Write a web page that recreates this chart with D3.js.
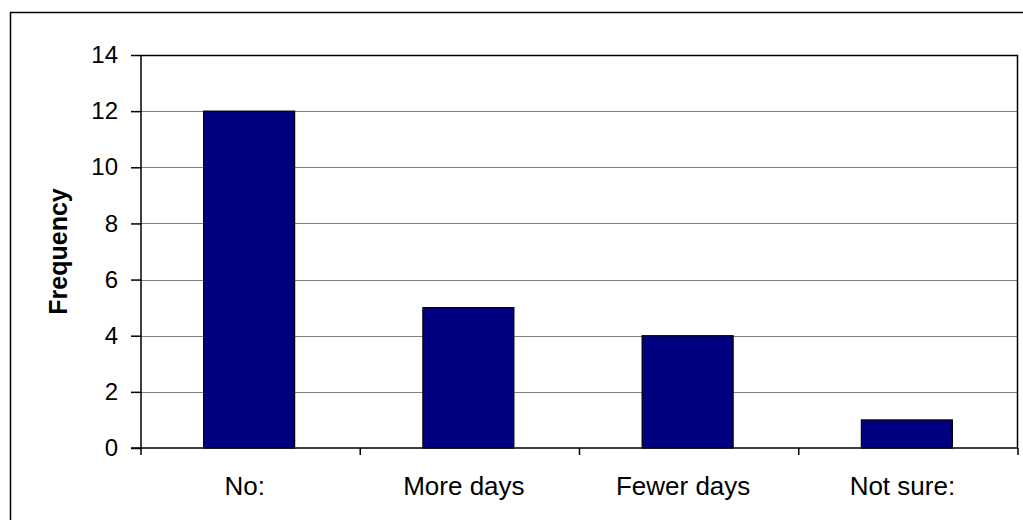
<!DOCTYPE html>
<html>
<head>
<meta charset="utf-8">
<script src="https://cdn.jsdelivr.net/npm/d3@7"></script>
<style>
  html, body { margin: 0; padding: 0; background: #fff; }
  svg { display: block; }
  text { font-family: Arial, "Liberation Sans", sans-serif; fill: #000; }
</style>
</head>
<body>
<svg id="chart" width="1023" height="520"></svg>
<script>
const categories = ["No:", "More days", "Fewer days", "Not sure:"];
const frequency = [12, 5, 4, 1];
const yTicks = [0, 2, 4, 6, 8, 10, 12, 14];
const yLabel = "Frequency";

const svg = d3.select("#chart");
const plot = { left: 141, top: 55, right: 1018, bottom: 448 };

// outer chart border
svg.append("rect")
  .attr("x", 10.5).attr("y", 12.5)
  .attr("width", 1030).attr("height", 530)
  .attr("fill", "#fff").attr("stroke", "#000").attr("stroke-width", 1.5);

const x = d3.scaleBand().domain(categories)
  .range([plot.left, plot.right]).paddingInner(0).paddingOuter(0);
const y = d3.scaleLinear().domain([0, 14]).range([plot.bottom, plot.top]);

// gridlines
svg.append("g").selectAll("line")
  .data(yTicks.filter(d => d > 0 && d < 14))
  .join("line")
  .attr("x1", plot.left).attr("x2", plot.right)
  .attr("y1", d => Math.round(y(d)) + 0.5).attr("y2", d => Math.round(y(d)) + 0.5)
  .attr("stroke", "#808080").attr("stroke-width", 1);

// plot top & right border
svg.append("path")
  .attr("d", `M${plot.left},${plot.top + 0.5}H${plot.right - 0.5}V${plot.bottom}`)
  .attr("fill", "none").attr("stroke", "#000").attr("stroke-width", 1.5);

// bars
const barW = x.bandwidth() * 0.415;
svg.append("g").selectAll("rect")
  .data(categories.map((c, i) => ({ c, v: frequency[i] })))
  .join("rect")
  .attr("x", d => x(d.c) + (x.bandwidth() - barW) / 2 - 1.5)
  .attr("y", d => y(d.v))
  .attr("width", barW)
  .attr("height", d => y(0) - y(d.v))
  .attr("fill", "#000080")
  .attr("stroke", "#000").attr("stroke-width", 1.2);

// y axis
const yAxis = d3.axisLeft(y).tickValues(yTicks).tickSize(10).tickPadding(13)
  .tickFormat(d3.format("d"));
const gy = svg.append("g").attr("transform", `translate(${plot.left},0)`).call(yAxis);
gy.select(".domain").attr("stroke", "#000").attr("stroke-width", 1.5)
  .attr("d", `M0,${plot.top}V${plot.bottom}`);
gy.selectAll(".tick line").attr("stroke", "#000").attr("stroke-width", 1.5);
gy.selectAll(".tick text").attr("font-size", 24)
  .attr("font-family", "Arial, 'Liberation Sans', sans-serif").attr("fill", "#000");

// x axis
const gx = svg.append("g").attr("transform", `translate(0,${plot.bottom})`);
gx.append("line").attr("x1", plot.left - 10).attr("x2", plot.right)
  .attr("y1", 0).attr("y2", 0).attr("stroke", "#000").attr("stroke-width", 1.5);
const bounds = categories.map(c => x(c)).concat([plot.right]);
gx.selectAll("line.tk").data(bounds).join("line").attr("class", "tk")
  .attr("x1", d => d).attr("x2", d => d).attr("y1", 0).attr("y2", 7)
  .attr("stroke", "#000").attr("stroke-width", 1.5);
gx.selectAll("text").data(categories).join("text")
  .attr("x", d => x(d) + x.bandwidth() / 2 - 6)
  .attr("y", 47)
  .attr("text-anchor", "middle")
  .attr("font-size", 26)
  .text(d => d);

// y label
svg.append("text")
  .attr("transform", `translate(67,${(plot.top + plot.bottom) / 2}) rotate(-90)`)
  .attr("text-anchor", "middle")
  .attr("font-size", 25).attr("font-weight", "bold")
  .text(yLabel);
</script>
</body>
</html>
